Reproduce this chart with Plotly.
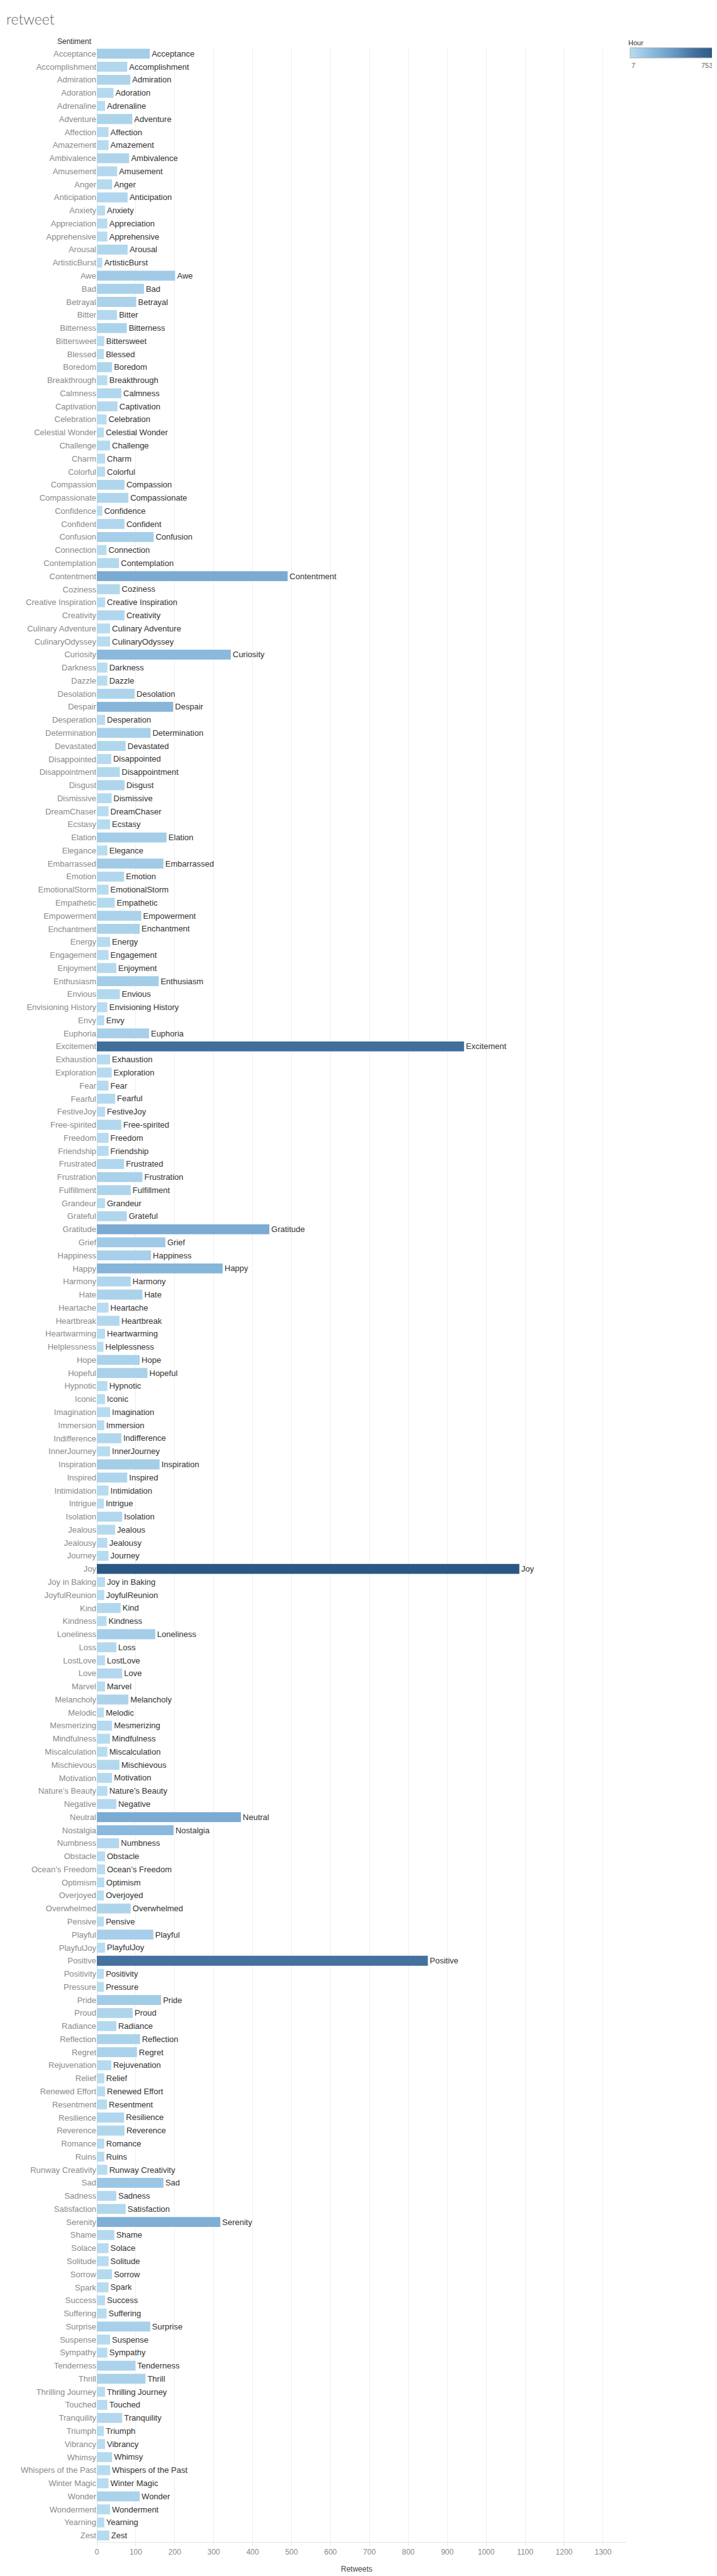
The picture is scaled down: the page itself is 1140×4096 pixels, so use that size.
import plotly.graph_objects as go

categories = [
    "Acceptance", "Accomplishment", "Admiration", "Adoration", "Adrenaline", "Adventure", "Affection",
    "Amazement", "Ambivalence", "Amusement", "Anger", "Anticipation", "Anxiety", "Appreciation",
    "Apprehensive", "Arousal", "ArtisticBurst", "Awe",
    "Bad", "Betrayal", "Bitter", "Bitterness", "Bittersweet", "Blessed", "Boredom", "Breakthrough",
    "Calmness", "Captivation", "Celebration", "Celestial Wonder", "Challenge", "Charm", "Colorful",
    "Compassion", "Compassionate", "Confidence",
    "Confident", "Confusion", "Connection", "Contemplation", "Contentment", "Coziness",
    "Creative Inspiration", "Creativity", "Culinary Adventure", "CulinaryOdyssey", "Curiosity",
    "Darkness", "Dazzle", "Desolation", "Despair", "Desperation", "Determination",
    "Devastated", "Disappointed", "Disappointment", "Disgust", "Dismissive", "DreamChaser", "Ecstasy",
    "Elation", "Elegance", "Embarrassed", "Emotion", "EmotionalStorm", "Empathetic", "Empowerment",
    "Enchantment", "Energy", "Engagement", "Enjoyment",
    "Enthusiasm", "Envious", "Envisioning History", "Envy", "Euphoria", "Excitement", "Exhaustion",
    "Exploration", "Fear", "Fearful", "FestiveJoy", "Free-spirited", "Freedom", "Friendship",
    "Frustrated", "Frustration", "Fulfillment",
    "Grandeur", "Grateful", "Gratitude", "Grief", "Happiness", "Happy", "Harmony", "Hate", "Heartache",
    "Heartbreak", "Heartwarming", "Helplessness", "Hope", "Hopeful", "Hypnotic", "Iconic", "Imagination",
    "Immersion",
    "Indifference", "InnerJourney", "Inspiration", "Inspired", "Intimidation", "Intrigue", "Isolation",
    "Jealous", "Jealousy", "Journey", "Joy", "Joy in Baking", "JoyfulReunion", "Kind", "Kindness",
    "Loneliness", "Loss", "LostLove",
    "Love", "Marvel", "Melancholy", "Melodic", "Mesmerizing", "Mindfulness", "Miscalculation",
    "Mischievous", "Motivation", "Nature\u2019s Beauty", "Negative", "Neutral", "Nostalgia", "Numbness",
    "Obstacle", "Ocean\u2019s Freedom", "Optimism",
    "Overjoyed", "Overwhelmed", "Pensive", "Playful", "PlayfulJoy", "Positive", "Positivity", "Pressure",
    "Pride", "Proud", "Radiance", "Reflection", "Regret", "Rejuvenation", "Relief", "Renewed Effort",
    "Resentment", "Resilience",
    "Reverence", "Romance", "Ruins", "Runway Creativity", "Sad", "Sadness", "Satisfaction", "Serenity",
    "Shame", "Solace", "Solitude", "Sorrow", "Spark", "Success", "Suffering", "Surprise", "Suspense",
    "Sympathy", "Tenderness", "Thrill", "Thrilling Journey", "Touched", "Tranquility", "Triumph",
    "Vibrancy", "Whimsy", "Whispers of the Past", "Winter Magic", "Wonder", "Wonderment", "Yearning",
    "Zest",
]

retweets = [
    136, 78, 86, 43, 21, 91, 30,
    30, 83, 52, 39, 79, 21, 27,
    27, 79, 14, 201,
    121, 101, 52, 77, 19, 18, 39, 27,
    63, 53, 25, 18, 34, 21, 21,
    71, 81, 14,
    71, 146, 25, 57, 490, 59,
    21, 71, 34, 34, 344,
    27, 27, 97, 196, 21, 138,
    74, 37, 59, 71, 38, 30, 34,
    179, 27, 171, 70, 30, 46, 114,
    110, 34, 30, 50,
    159, 59, 27, 19, 134, 943, 34,
    38, 30, 47, 21, 63, 30, 30,
    70, 117, 87,
    21, 77, 443, 176, 139, 323, 87, 117, 30,
    58, 21, 17, 110, 130, 27, 21, 34,
    19,
    63, 34, 161, 78, 30, 18, 65,
    47, 27, 30, 1085, 21, 19, 61, 25,
    150, 50, 21,
    65, 21, 81, 18, 39, 34, 27,
    58, 39, 27, 50, 370, 197, 57,
    21, 21, 19,
    18, 87, 18, 145, 21, 850, 18, 18,
    165, 92, 50, 111, 103, 37, 19, 21,
    26, 70,
    71, 19, 19, 27, 171, 50, 74, 317,
    45, 30, 30, 39, 30, 21, 25, 137, 34,
    27, 99, 125, 21, 27, 65, 18,
    21, 39, 34, 30, 110, 34, 19,
    32,
]

hour = [
    95, 40, 55, 25, 12, 55, 20,
    20, 55, 30, 25, 40, 12, 15,
    15, 40, 7, 110,
    75, 65, 30, 60, 10, 8, 45, 12,
    40, 30, 12, 10, 22, 12, 12,
    45, 45, 8,
    40, 85, 15, 35, 290, 35,
    10, 40, 15, 15, 205,
    14, 14, 55, 225, 12, 80,
    45, 18, 32, 50, 22, 14, 18,
    95, 14, 110, 40, 16, 25, 65,
    65, 18, 15, 28,
    95, 35, 10, 10, 85, 585, 18,
    20, 20, 28, 10, 35, 16, 16,
    40, 75, 50,
    10, 45, 290, 115, 80, 230, 48, 70, 16,
    32, 10, 9, 65, 75, 14, 10, 18,
    10,
    40, 15, 95, 50, 16, 9, 38,
    26, 16, 14, 753, 10, 10, 35, 14,
    95, 28, 11,
    38, 11, 55, 9, 22, 18, 14,
    32, 22, 14, 28, 290, 205, 38,
    11, 10, 10,
    9, 50, 9, 85, 11, 570, 9, 9,
    100, 52, 28, 65, 65, 20, 10, 10,
    14, 40,
    42, 10, 10, 14, 130, 28, 42, 265,
    26, 16, 16, 22, 16, 11, 13, 80, 18,
    14, 60, 72, 10, 14, 38, 9,
    10, 22, 18, 16, 65, 18, 10,
    18,
]

x_ticks = list(range(0, 1301, 100))
hour_min, hour_max = 7, 753

W, H = 1140, 4096
PL, PR, PT, PB = 146, 993, 67, 4034
PW, PH = PR - PL, PB - PT

# legend box, in pixels
LG_X0, LG_X1, LG_Y0, LG_Y1 = 999, 1133, 69, 85


def px_x(px):
    return (px - PL) / PW


def px_y(py):
    return 1 - (py - PT) / PH


scale = [
    [0.0, "#b9ddf1"],
    [0.25, "#8dbbde"],
    [0.5, "#6a9bc8"],
    [0.75, "#45719f"],
    [1.0, "#2a5783"],
]

FONT = "Liberation Sans, Arial, sans-serif"

fig = go.Figure(
    go.Bar(
        x=retweets,
        y=categories,
        orientation="h",
        marker=dict(
            color=hour,
            cmin=hour_min,
            cmax=hour_max,
            colorscale=scale,
            line_width=0,
            showscale=True,
            colorbar=dict(
                orientation="h",
                lenmode="pixels",
                len=LG_X1 - LG_X0,
                thickness=LG_Y1 - LG_Y0,
                x=px_x((LG_X0 + LG_X1) / 2),
                xanchor="center",
                y=px_y(LG_Y1),
                yanchor="bottom",
                xpad=0,
                ypad=0,
                outlinecolor="#aaaaaa",
                outlinewidth=1,
                showticklabels=False,
                ticks="",
            ),
        ),
        text=categories,
        textposition="outside",
        textfont=dict(family=FONT, size=13, color="#333333"),
        cliponaxis=False,
        constraintext="none",
        hovertemplate="%{y}: %{x}<extra></extra>",
    )
)

fig.update_layout(
    width=W,
    height=H,
    margin=dict(l=PL, r=W - PR, t=PT, b=H - PB, pad=0),
    paper_bgcolor="white",
    plot_bgcolor="white",
    bargap=0.24,
    font=dict(family=FONT),
    showlegend=False,
    xaxis=dict(
        range=[0, 1360],
        tickvals=x_ticks,
        showgrid=True,
        gridcolor="#efefef",
        gridwidth=1,
        zeroline=True,
        zerolinecolor="#dedede",
        zerolinewidth=1,
        showline=True,
        linecolor="#e4e4e4",
        linewidth=1,
        ticks="outside",
        ticklen=5,
        tickcolor="#e4e4e4",
        tickfont=dict(family=FONT, size=12, color="#888888"),
        fixedrange=True,
    ),
    yaxis=dict(
        autorange="reversed",
        showgrid=False,
        zeroline=False,
        showline=False,
        ticks="",
        tickfont=dict(family=FONT, size=13, color="#8a8a8a"),
        fixedrange=True,
    ),
    title=dict(
        text="retweet",
        x=2 / W,
        xanchor="left",
        y=1 - 23 / H,
        yanchor="middle",
        font=dict(family="Lato, Liberation Sans, sans-serif", size=23, color="#666666", weight=300),
    ),
    annotations=[
        dict(
            text="Sentiment",
            xref="paper", yref="paper",
            x=0, xanchor="right", xshift=-6,
            y=px_y(58), yanchor="middle",
            showarrow=False,
            font=dict(family=FONT, size=12, color="#333333"),
        ),
        dict(
            text="Hour",
            xref="paper", yref="paper",
            x=px_x(994), xanchor="left",
            y=px_y(60), yanchor="middle",
            showarrow=False,
            font=dict(family=FONT, size=11, color="#333333"),
        ),
        dict(
            text=str(hour_min),
            xref="paper", yref="paper",
            x=px_x(LG_X0), xanchor="left",
            y=px_y(96), yanchor="middle",
            showarrow=False,
            font=dict(family=FONT, size=11, color="#666666"),
        ),
        dict(
            text=str(hour_max),
            xref="paper", yref="paper",
            x=px_x(LG_X1), xanchor="right",
            y=px_y(96), yanchor="middle",
            showarrow=False,
            font=dict(family=FONT, size=11, color="#666666"),
        ),
        dict(
            text="Retweets",
            xref="paper", yref="paper",
            x=px_x(561), xanchor="center",
            y=px_y(4077), yanchor="middle",
            showarrow=False,
            font=dict(family=FONT, size=12, color="#444444"),
        ),
    ],
)

fig.write_html("out.html")
